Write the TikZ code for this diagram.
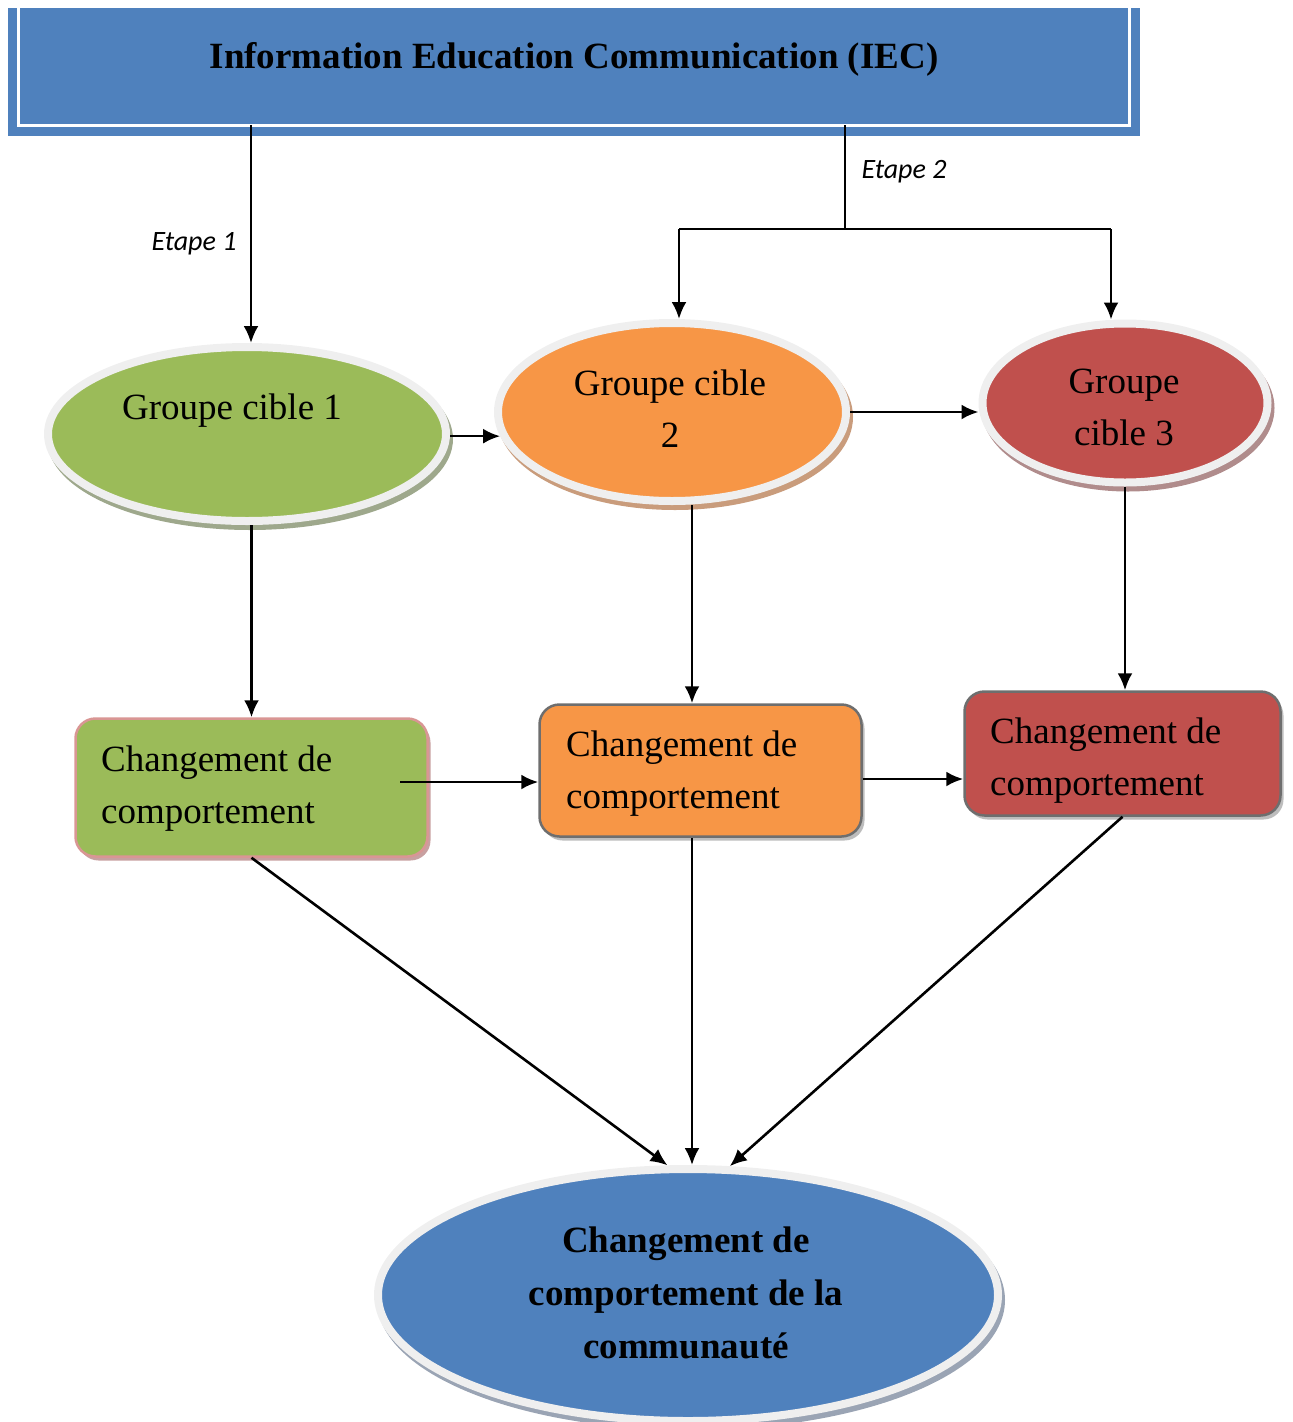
\documentclass[tikz,border=0pt]{standalone}
\usepackage{fontspec}
\setmainfont{Liberation Serif}
\newfontfamily\calib{Carlito}
\usetikzlibrary{shapes.geometric,shadows,arrows.meta,calc}

\definecolor{iecblue}{HTML}{4F81BD}
\definecolor{cgreen}{HTML}{9BBB59}
\definecolor{corange}{HTML}{F79646}
\definecolor{cred}{HTML}{C0504D}
\definecolor{rimgray}{HTML}{EFEFEF}
\definecolor{shgreen}{HTML}{9EA88C}
\definecolor{shorange}{HTML}{C99C7C}
\definecolor{shred}{HTML}{B08C8C}
\definecolor{shblue}{HTML}{9AA4B4}
\definecolor{pinkline}{HTML}{D99694}
\definecolor{shpink}{HTML}{C8A0A0}
\definecolor{boxline}{HTML}{6E6E6E}
\definecolor{shgray}{HTML}{BDBDBD}

\begin{document}
\begin{tikzpicture}[x=1pt,y=-1pt,
  oval/.style={ellipse, draw=rimgray, line width=8pt, fill=#1, inner sep=0pt},
  ovshadow/.style={general shadow={fill=#1, draw=#1, line width=8pt, shadow xshift=3pt, shadow yshift=-5pt}},
  cbox/.style={rectangle, rounded corners=20pt, line width=2.5pt, inner sep=0pt},
  boxshadow/.style={general shadow={fill=#1, shadow xshift=3pt, shadow yshift=-4pt}},
  body/.style={font=\fontsize{37}{52}\selectfont, inner sep=0pt},
  boldbody/.style={font=\bfseries\fontsize{37}{53}\selectfont, inner sep=0pt},
  arr/.style={line width=2.6pt, -{Latex[length=17pt,width=15pt]}},
  ln/.style={line width=2.6pt},
  lab/.style={font=\calib\itshape\fontsize{28}{34}\selectfont, inner sep=0pt}]

\useasboundingbox (0,0) rectangle (1293,1422);

% top box
\fill[iecblue] (8,8) rectangle (1140,136);
\node[rectangle, fill=iecblue, inner sep=0pt, outer sep=0pt,
      minimum width=1111pt, minimum height=117pt] (iec) at (573.5,66.5) {};
\draw[white, line width=3pt] (iec.north west) -- (iec.south west) -- (iec.south east) -- (iec.north east);
\node[boldbody, anchor=base] (ttl) at (574,68) {Information Education Communication (IEC)};

% ellipses
\node[oval=cgreen, ovshadow=shgreen, minimum width=398pt, minimum height=174pt] (g1) at (247,434) {};
\node[body, anchor=base] (t1) at (232,419) {Groupe cible 1};

\node[oval=corange, ovshadow=shorange, minimum width=348pt, minimum height=178pt] (g2) at (672,412) {};
\node[body, align=center, anchor=base] (t2) at (670,447) {Groupe cible\\2};

\node[oval=cred, ovshadow=shred, minimum width=285pt, minimum height=159pt] (g3) at (1125,403) {};
\node[body, align=center, anchor=base] (t3) at (1124,445) {Groupe\\cible 3};

\node[oval=iecblue, ovshadow=shblue, minimum width=620pt, minimum height=252pt] (fin) at (688,1295) {};
\node[boldbody, align=center, anchor=base] (tf) at (686,1358) {Changement de\\comportement de la\\communauté};

% boxes
\node[cbox, draw=pinkline, fill=cgreen, boxshadow=shpink, minimum width=352pt, minimum height=138pt] (b1) at (251.5,787.5) {};
\node[body, align=left, anchor=base west] (tb1) at (101,823) {Changement de\\comportement};

\node[cbox, draw=boxline, fill=corange, boxshadow=shgray, minimum width=322pt, minimum height=132pt] (b2) at (700.5,770.5) {};
\node[body, align=left, anchor=base west] (tb2) at (566,808) {Changement de\\comportement};

\node[cbox, draw=boxline, fill=cred, boxshadow=shgray, minimum width=316pt, minimum height=124pt] (b3) at (1122.5,753.5) {};
\node[body, align=left, anchor=base west] (tb3) at (990,795) {Changement de\\comportement};

% labels
\node[lab] (l1) at (194,244) {Etape 1};
\node[lab] (l2) at (904,172) {Etape 2};

% connectors
\coordinate (e1x) at (251,0);
\coordinate (e2x) at (845,0);
\coordinate (c2x) at (692,0);
\coordinate (j2l) at (679,229);
\coordinate (j2r) at (1111,229);
\coordinate (b1o) at (400,782);
\coordinate (b23) at (0,779);

\draw[arr] (iec.south -| e1x) -- (e1x |- g1.north);
\draw[ln] (iec.south -| e2x) -- (e2x |- j2l);
\draw[ln] (j2l) -- (j2r);
\draw[arr] (j2l) -- (j2l |- g2.north);
\draw[arr] (j2r) -- (j2r |- g3.north);

\draw[arr] (g1.east |- g2.188) -- (g2.188);
\draw[arr] (g2.east) -- (g2.east -| g3.west);

\draw[arr] (g1.south -| b1.north) -- (b1.north);
\draw[arr] (g2.south -| c2x) -- (c2x |- b2.north);
\draw[arr] (g3.south) -- (g3.south |- b3.north);

\draw[arr] (b1o) -- (b1o -| b2.west);
\draw[arr] (b23 -| b2.east) -- (b23 -| b3.west);

\draw[arr] (b1.south) -- (fin.99);
\draw[arr] (c2x |- b2.south) -- (c2x |- fin.north);
\draw[arr] (b3.south) -- (fin.72);
\end{tikzpicture}
\end{document}
